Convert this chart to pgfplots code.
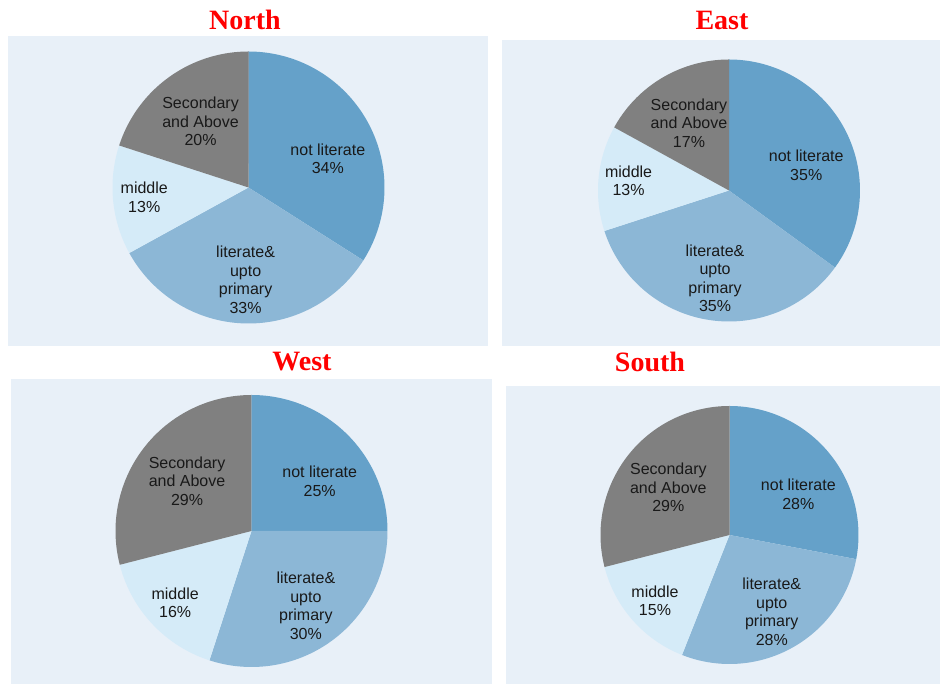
\documentclass[border=0pt]{standalone}
\usepackage{pgfplots}
\pgfplotsset{compat=1.18}
\usepgfplotslibrary{polar}
\usepackage{fontspec}
\setmainfont{Liberation Sans}
\newfontfamily\titlefont{Liberation Serif}

\definecolor{panel}{HTML}{E8F0F8}
\definecolor{cnot}{HTML}{65A1C9}
\definecolor{clit}{HTML}{8CB7D6}
\definecolor{cmid}{HTML}{D5EBF8}
\definecolor{csec}{HTML}{808080}

% pie: centre x, centre y, radius (px), then the four shares in percent
\newcommand\pie[7]{%
  \pgfmathsetmacro\aA{90-3.6*#4}%
  \pgfmathsetmacro\aB{\aA-3.6*#5}%
  \pgfmathsetmacro\aC{\aB-3.6*#6}%
  \pgfmathsetmacro\aD{\aC-3.6*#7}%
  \pgfmathsetmacro\w{1.5*#3}%
  \begin{polaraxis}[at={(#1*0.75pt,#2*0.75pt)}, anchor=origin,
    width=\w pt, height=\w pt, scale only axis, hide axis,
    xmin=0, xmax=360, ymin=0, ymax=1, clip=false]
  \addplot[fill=cnot, draw=none, domain=\aA:90, samples=90] {1} -- (axis cs:0,0) -- cycle;
  \addplot[fill=clit, draw=none, domain=\aB:\aA, samples=90] {1} -- (axis cs:0,0) -- cycle;
  \addplot[fill=cmid, draw=none, domain=\aC:\aB, samples=60] {1} -- (axis cs:0,0) -- cycle;
  \addplot[fill=csec, draw=none, domain=\aD:\aC, samples=60] {1} -- (axis cs:0,0) -- cycle;
  \node[lab] at (axis cs:{(90+\aA)/2-9},0.62) {not literate\\#4\%};
  \node[lab] at (axis cs:{(\aA+\aB)/2},0.68) {literate\&\\upto\\primary\\#5\%};
  \node[lab] at (axis cs:{(\aB+\aC)/2},0.77) {middle\\#6\%};
  \node[lab] at (axis cs:{(\aC+\aD)/2},0.6) {Secondary\\and Above\\#7\%};
  \end{polaraxis}}

\begin{document}
\begin{tikzpicture}[x=0.75pt, y=0.75pt,
  lab/.style={align=center, text=black!90, inner sep=0pt, font=\fontsize{12}{13.9}\selectfont},
  ttl/.style={text=red, font=\titlefont\bfseries\fontsize{21}{24}\selectfont}]
\path[use as bounding box] (0,0) rectangle (940,684);
\fill[panel] (8,338) rectangle (488,648);
\fill[panel] (502,338) rectangle (940,644);
\fill[panel] (11,0) rectangle (492,305);
\fill[panel] (506,0) rectangle (940,298);

\node[ttl] at (245,664) {North};
\node[ttl] at (722,664) {East};
\node[ttl] at (302,322) {West};
\node[ttl] at (650,322) {South};

\pie{248.5}{496.5}{136}{34}{33}{13}{20}
\pie{729}{493.5}{131}{35}{35}{13}{17}
\pie{251.5}{153}{136}{25}{30}{16}{29}
\pie{729.5}{149}{129}{28}{28}{15}{29}
\end{tikzpicture}
\end{document}
